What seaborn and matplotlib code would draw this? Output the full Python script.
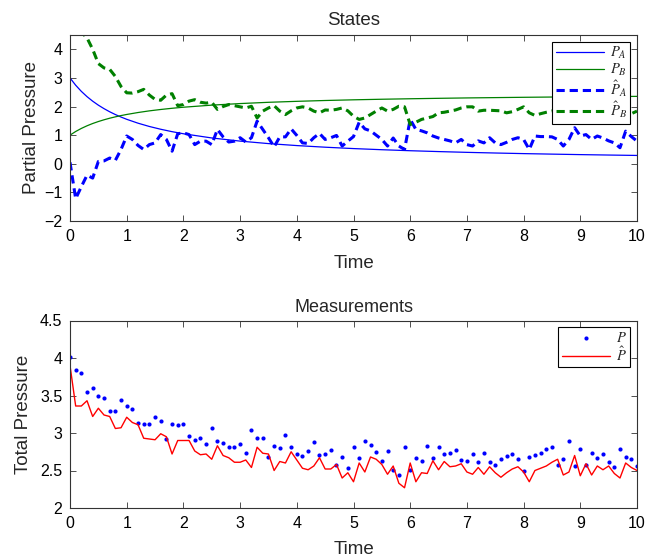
import numpy as np
import pandas as pd
import matplotlib
matplotlib.use("Agg")
import matplotlib.pyplot as plt
from matplotlib.ticker import FormatStrFormatter
import seaborn as sns

# ---- sampling grid of the estimator ----
time = np.linspace(0, 10, 101)

# ---- true partial pressures (smooth model trajectories) ----
t_true = [0.0, 0.1, 0.2, 0.3, 0.4, 0.5, 0.6, 0.7, 0.8, 0.9, 1.0, 1.2, 1.4, 1.6, 1.8,
          2.0, 2.5, 3.0, 3.5, 4.0, 4.5, 5.0, 5.5, 6.0, 6.5, 7.0, 7.5, 8.0, 8.5, 9.0, 9.5, 10.0]
p_a_true = [3.000, 2.745, 2.530, 2.346, 2.187, 2.048, 1.926, 1.817, 1.720, 1.633, 1.554,
            1.418, 1.303, 1.206, 1.122, 1.049, 0.902, 0.792, 0.705, 0.636, 0.579, 0.531,
            0.491, 0.456, 0.426, 0.399, 0.376, 0.355, 0.337, 0.320, 0.305, 0.291]
p_b_true = [1.000, 1.128, 1.235, 1.327, 1.407, 1.476, 1.537, 1.592, 1.640, 1.684, 1.723,
            1.791, 1.849, 1.897, 1.939, 1.976, 2.049, 2.104, 2.148, 2.182, 2.211, 2.235,
            2.255, 2.272, 2.287, 2.301, 2.312, 2.323, 2.332, 2.340, 2.348, 2.355]

# ---- estimated partial pressures ----
p_a_hat = [0.05, -1.22, -0.80, -0.40, -0.50, 0.08, 0.10, 0.20, 0.12, 0.50,
           0.97, 0.85, 0.64, 0.50, 0.67, 0.73, 1.02, 0.85, 0.44, 1.05,
           1.08, 1.02, 0.67, 0.79, 0.79, 0.67, 1.20, 0.94, 0.76, 0.79,
           0.91, 0.76, 0.91, 1.49, 1.20, 0.91, 0.59, 0.94, 0.94, 1.22,
           0.99, 0.73, 0.71, 0.91, 1.06, 0.85, 0.91, 0.99, 0.62, 0.79,
           0.95, 1.45, 1.22, 1.15, 1.00, 0.85, 0.62, 0.90, 0.62, 0.50,
           1.55, 1.20, 1.15, 1.08, 0.97, 0.90, 0.85, 0.80, 0.73, 0.85,
           0.67, 0.62, 0.80, 0.73, 0.91, 0.73, 0.67, 0.75, 0.85, 0.91,
           0.85, 0.50, 0.97, 0.95, 0.95, 0.94, 0.85, 0.62, 0.85, 1.26,
           0.97, 1.02, 0.85, 0.97, 0.90, 0.80, 0.73, 0.56, 1.14, 0.95,
           0.79]
p_b_hat = [5.00, 4.85, 4.60, 4.40, 4.00, 3.50, 3.35, 3.30, 3.05, 2.70,
           2.48, 2.47, 2.52, 2.60, 2.40, 2.25, 2.22, 2.40, 2.45, 2.03,
           2.07, 2.19, 2.24, 2.15, 2.12, 2.15, 1.90, 2.00, 2.07, 2.03,
           1.99, 1.95, 2.01, 1.60, 1.84, 1.95, 2.03, 1.84, 1.72, 1.85,
           1.95, 1.99, 1.95, 1.84, 1.78, 1.88, 1.87, 1.90, 1.95, 1.85,
           1.66, 1.55, 1.60, 1.72, 1.84, 1.95, 1.84, 1.90, 2.01, 1.99,
           1.37, 1.45, 1.55, 1.60, 1.65, 1.78, 1.80, 1.84, 1.88, 1.95,
           1.99, 1.99, 1.84, 1.87, 1.87, 1.86, 1.85, 1.78, 1.82, 1.90,
           1.99, 1.78, 1.69, 1.75, 1.80, 1.84, 1.95, 2.03, 1.85, 1.72,
           1.80, 1.78, 1.72, 1.78, 1.84, 1.88, 1.95, 2.02, 1.72, 1.75,
           1.84]

# ---- measured and estimated total pressure ----
p_meas = [4.01, 3.84, 3.80, 3.55, 3.60, 3.50, 3.47, 3.29, 3.29, 3.44,
          3.36, 3.32, 3.13, 3.12, 3.12, 3.21, 3.16, 2.92, 3.12, 3.11,
          3.12, 2.96, 2.91, 2.94, 2.85, 3.07, 2.90, 2.87, 2.81, 2.82,
          2.86, 2.73, 3.04, 2.93, 2.93, 2.68, 2.83, 2.80, 2.97, 2.82,
          2.72, 2.70, 2.76, 2.88, 2.71, 2.72, 2.78, 2.58, 2.68, 2.53,
          2.82, 2.67, 2.89, 2.84, 2.75, 2.63, 2.76, 2.51, 2.44, 2.81,
          2.51, 2.67, 2.63, 2.83, 2.67, 2.81, 2.72, 2.73, 2.78, 2.64,
          2.63, 2.72, 2.61, 2.73, 2.61, 2.57, 2.66, 2.70, 2.72, 2.65,
          2.50, 2.68, 2.71, 2.74, 2.79, 2.82, 2.58, 2.65, 2.90, 2.56,
          2.79, 2.58, 2.74, 2.67, 2.72, 2.61, 2.55, 2.79, 2.68, 2.65,
          2.56]
p_hat = [3.90, 3.36, 3.36, 3.43, 3.22, 3.33, 3.24, 3.22, 3.06, 3.07,
         3.21, 3.14, 3.11, 2.93, 2.92, 2.91, 2.99, 2.95, 2.72, 2.90,
         2.90, 2.90, 2.76, 2.71, 2.72, 2.65, 2.83, 2.70, 2.67, 2.61,
         2.61, 2.64, 2.54, 2.81, 2.73, 2.72, 2.50, 2.62, 2.60, 2.75,
         2.64, 2.53, 2.51, 2.56, 2.67, 2.52, 2.52, 2.58, 2.40, 2.47,
         2.35, 2.60, 2.48, 2.68, 2.65, 2.58, 2.45, 2.56, 2.33, 2.27,
         2.60, 2.35, 2.47, 2.46, 2.63, 2.51, 2.62, 2.55, 2.56, 2.59,
         2.48, 2.45, 2.54, 2.45, 2.55, 2.47, 2.41, 2.47, 2.52, 2.55,
         2.48, 2.35, 2.50, 2.53, 2.56, 2.61, 2.65, 2.44, 2.48, 2.70,
         2.43, 2.59, 2.44, 2.56, 2.51, 2.56, 2.46, 2.40, 2.60, 2.54,
         2.50]

x_ticks = list(range(0, 11))
top_y_ticks = [-2, -1, 0, 1, 2, 3, 4]
bottom_y_ticks = [2, 2.5, 3, 3.5, 4, 4.5]

sns.set_theme(style="ticks")
plt.rcParams.update({
    "font.family": ["Liberation Sans", "DejaVu Sans"],
    "mathtext.fontset": "stix",
    "xtick.direction": "in",
    "ytick.direction": "in",
    "xtick.top": True,
    "ytick.right": True,
    "xtick.major.size": 4,
    "ytick.major.size": 4,
    "xtick.major.width": 0.6,
    "ytick.major.width": 0.6,
    "xtick.major.pad": 6,
    "ytick.major.pad": 5.5,
    "axes.linewidth": 0.8,
    "axes.edgecolor": "#333333",
    "xtick.color": "#333333",
    "ytick.color": "#333333",
    "xtick.labelcolor": "black",
    "ytick.labelcolor": "black",
    "xtick.labelsize": 11.5,
    "ytick.labelsize": 11.5,
})

BLUE = (0.0, 0.0, 1.0)
GREEN = (0.0, 0.5, 0.0)
RED = (1.0, 0.0, 0.0)
DASH = (0, (2.7, 1.6))

fig = plt.figure(figsize=(6.62, 5.6), dpi=100)
ax1 = fig.add_axes([70 / 662, 1 - 221 / 560, 567 / 662, 186 / 560])
ax2 = fig.add_axes([70 / 662, 1 - 508 / 560, 567 / 662, 187.5 / 560])

states_true = pd.DataFrame({"t": t_true, "pa": p_a_true, "pb": p_b_true})
states_hat = pd.DataFrame({"t": time, "pa": p_a_hat, "pb": p_b_hat})
meas = pd.DataFrame({"t": time, "p": p_meas, "phat": p_hat})

sns.lineplot(data=states_true, x="t", y="pa", ax=ax1, color=BLUE, lw=0.9,
             label=r"$P_A$", sort=False, errorbar=None)
sns.lineplot(data=states_true, x="t", y="pb", ax=ax1, color=GREEN, lw=0.9,
             label=r"$P_B$", sort=False, errorbar=None)
sns.lineplot(data=states_hat, x="t", y="pa", ax=ax1, color=BLUE, lw=2.2,
             linestyle=DASH, label=r"$\hat{P}_A$", sort=False, errorbar=None)
sns.lineplot(data=states_hat, x="t", y="pb", ax=ax1, color=GREEN, lw=2.2,
             linestyle=DASH, label=r"$\hat{P}_B$", sort=False, errorbar=None)

ax1.set_xlim(0, 10)
ax1.set_ylim(-2, 4.5)
ax1.set_xticks(x_ticks)
ax1.set_yticks(top_y_ticks)
ax1.set_title("States", fontsize=13.5, pad=7)
ax1.set_xlabel("Time", fontsize=13.5, labelpad=8)
ax1.set_ylabel("Partial Pressure", fontsize=13.5, labelpad=3)
leg1 = ax1.legend(loc="upper right", fontsize=10.5, handlelength=3.3,
                  fancybox=False, framealpha=1, edgecolor="black",
                  borderpad=0.25, labelspacing=0.05, handletextpad=0.4,
                  borderaxespad=0.45)
leg1.get_frame().set_linewidth(0.8)

sns.scatterplot(data=meas, x="t", y="p", ax=ax2, color=BLUE, s=9,
                linewidth=0, marker="o", label=r"$P$")
sns.lineplot(data=meas, x="t", y="phat", ax=ax2, color=RED, lw=1.0,
             label=r"$\hat{P}$", sort=False, errorbar=None)

ax2.set_xlim(0, 10)
ax2.set_ylim(2, 4.5)
ax2.set_xticks(x_ticks)
ax2.set_yticks(bottom_y_ticks)
ax2.yaxis.set_major_formatter(FormatStrFormatter("%g"))
ax2.set_title("Measurements", fontsize=13, pad=6)
ax2.set_xlabel("Time", fontsize=13.5, labelpad=7)
ax2.set_ylabel("Total Pressure", fontsize=13.5, labelpad=6)
leg2 = ax2.legend(loc="upper right", fontsize=10.5, handlelength=3.3,
                  fancybox=False, framealpha=1, edgecolor="black",
                  borderpad=0.25, labelspacing=0.05, handletextpad=0.4,
                  borderaxespad=0.45, scatterpoints=1)
leg2.get_frame().set_linewidth(0.8)

for ax in (ax1, ax2):
    for s in ax.spines.values():
        s.set_visible(True)

fig.savefig("out.png", dpi=100, facecolor="white")
